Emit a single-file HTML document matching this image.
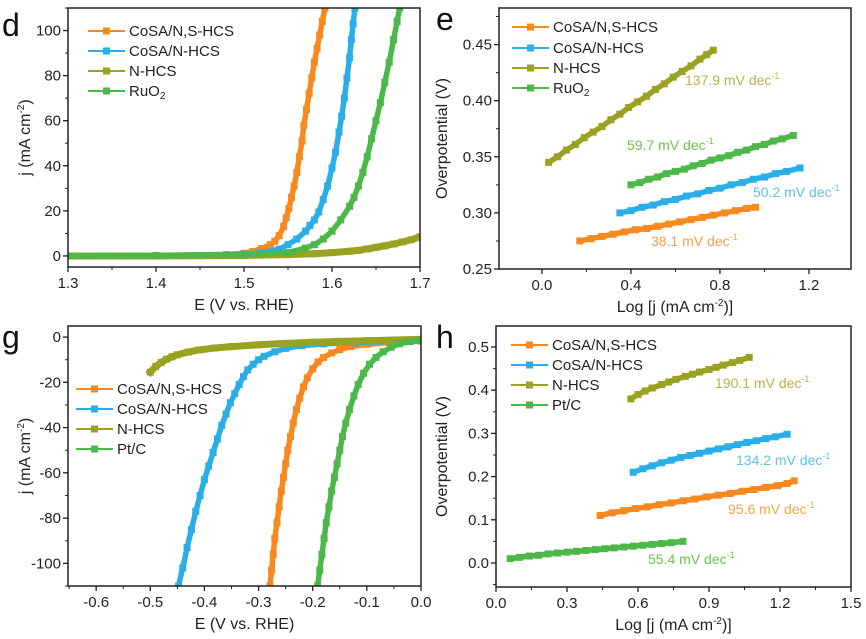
<!DOCTYPE html>
<html><head><meta charset="utf-8"><style>
body{margin:0;background:#fff;}
svg{display:block;font-family:"Liberation Sans",Arial,sans-serif;}
</style></head><body>
<svg id="fig" width="866" height="639" viewBox="0 0 866 639" xmlns="http://www.w3.org/2000/svg"></svg>
<script>
// ---- Data: panel d (OER LSV) ----
const dOrange=[[1.30,0],[1.40,0.2],[1.48,0.6],[1.50,1.2],[1.51,2],[1.52,3.3],[1.53,5],[1.535,6.5],[1.54,9],[1.545,13],[1.548,17],[1.551,21],[1.554,26],[1.557,31],[1.560,37],[1.563,44],[1.566,51],[1.568,58],[1.571,65],[1.574,72],[1.577,79],[1.580,86],[1.583,92],[1.586,98],[1.589,104],[1.592,110]];
const dBlue=[[1.30,0],[1.40,0.2],[1.50,0.8],[1.52,1.5],[1.54,3],[1.55,5],[1.56,7.5],[1.57,11],[1.575,13.5],[1.58,16],[1.585,19.5],[1.59,25],[1.595,31],[1.60,39],[1.604,46],[1.608,55],[1.611,62],[1.614,70],[1.617,79],[1.620,88],[1.622,96],[1.624,103],[1.626,110]];
const dOlive=[[1.30,0],[1.35,0],[1.40,0],[1.45,0.1],[1.50,0.2],[1.55,0.6],[1.58,1],[1.60,1.5],[1.62,2.1],[1.63,2.5],[1.64,3.1],[1.65,3.8],[1.66,4.5],[1.67,5.3],[1.68,6.2],[1.69,7.2],[1.70,8.5]];
const dGreen=[[1.30,0],[1.40,0.2],[1.50,0.6],[1.55,1.5],[1.57,3.5],[1.58,5],[1.59,7.5],[1.60,11],[1.61,16],[1.62,22],[1.625,26],[1.63,31],[1.635,37],[1.64,44],[1.645,52],[1.65,60],[1.655,68],[1.66,77],[1.665,86],[1.67,96],[1.674,104],[1.677,110]];
// ---- Data: panel e (OER Tafel) ----
const eOrangeX=[0.17,0.22,0.27,0.32,0.37,0.42,0.47,0.52,0.57,0.62,0.67,0.72,0.77,0.82,0.87,0.92,0.96];
const eOrangeY=[0.275,0.277,0.279,0.281,0.283,0.285,0.286,0.288,0.290,0.292,0.294,0.296,0.298,0.300,0.302,0.304,0.305];
const eBlueX=[0.35,0.40,0.45,0.50,0.55,0.60,0.65,0.70,0.75,0.80,0.85,0.90,0.95,1.00,1.05,1.10,1.16];
const eBlueY=[0.300,0.302,0.305,0.307,0.310,0.312,0.315,0.317,0.320,0.322,0.325,0.327,0.330,0.332,0.335,0.337,0.340];
const eOliveX=[0.03,0.07,0.11,0.15,0.19,0.23,0.27,0.31,0.35,0.39,0.43,0.47,0.51,0.55,0.59,0.63,0.67,0.71,0.74,0.77];
const eOliveY=[0.345,0.350,0.356,0.361,0.367,0.372,0.377,0.383,0.388,0.394,0.399,0.404,0.410,0.415,0.421,0.426,0.431,0.437,0.441,0.445];
const eGreenX=[0.40,0.44,0.48,0.52,0.56,0.60,0.64,0.68,0.72,0.76,0.80,0.84,0.88,0.92,0.96,1.00,1.04,1.08,1.13];
const eGreenY=[0.325,0.327,0.330,0.332,0.335,0.337,0.339,0.342,0.344,0.347,0.349,0.351,0.354,0.356,0.359,0.361,0.364,0.366,0.369];
// ---- Data: panel g (HER LSV) ----
const gOrange=[[-0.279,-110],[-0.276,-103],[-0.273,-96],[-0.27,-89],[-0.266,-82],[-0.262,-75],[-0.258,-68],[-0.254,-62],[-0.25,-56],[-0.246,-50],[-0.241,-44],[-0.236,-38],[-0.23,-32],[-0.224,-27],[-0.217,-22],[-0.21,-18],[-0.2,-14],[-0.19,-11],[-0.18,-9],[-0.165,-7],[-0.15,-5.5],[-0.13,-4.2],[-0.1,-3.2],[-0.06,-2.4],[0,-1.8]];
const gBlue=[[-0.448,-110],[-0.44,-102],[-0.432,-93],[-0.424,-85],[-0.416,-77],[-0.408,-70],[-0.40,-63],[-0.392,-57],[-0.384,-51],[-0.376,-45],[-0.368,-39],[-0.36,-34],[-0.352,-29],[-0.344,-25],[-0.336,-21],[-0.328,-17.5],[-0.32,-14.5],[-0.31,-12],[-0.30,-10],[-0.29,-8.5],[-0.27,-6.5],[-0.25,-5],[-0.22,-3.8],[-0.18,-3],[-0.12,-2.4],[-0.05,-1.8],[0,-1.5]];
const gOlive=[[-0.50,-15.5],[-0.49,-13],[-0.48,-11.2],[-0.47,-9.8],[-0.46,-8.7],[-0.45,-7.8],[-0.43,-6.6],[-0.41,-5.7],[-0.38,-4.8],[-0.35,-4.2],[-0.3,-3.4],[-0.25,-2.8],[-0.2,-2.3],[-0.15,-1.9],[-0.1,-1.6],[-0.05,-1.3],[0,-1.0]];
const gGreen=[[-0.191,-110],[-0.187,-103],[-0.183,-96],[-0.179,-89],[-0.175,-82],[-0.17,-75],[-0.165,-68],[-0.16,-62],[-0.155,-56],[-0.15,-50],[-0.145,-44],[-0.139,-38],[-0.132,-32],[-0.124,-26],[-0.116,-21],[-0.106,-16],[-0.095,-12],[-0.083,-9],[-0.07,-6.5],[-0.055,-4.5],[-0.04,-3],[-0.02,-2],[0,-1.3]];
// ---- Data: panel h (HER Tafel) ----
const hOrangeX=[0.44,0.49,0.54,0.59,0.64,0.69,0.74,0.79,0.84,0.89,0.94,0.99,1.04,1.09,1.14,1.19,1.23,1.26];
const hOrangeY=[0.11,0.116,0.121,0.126,0.13,0.135,0.139,0.144,0.148,0.153,0.157,0.161,0.166,0.17,0.175,0.179,0.184,0.19];
const hBlueX=[0.58,0.62,0.66,0.70,0.74,0.78,0.82,0.86,0.90,0.94,0.98,1.02,1.06,1.10,1.14,1.18,1.23];
const hBlueY=[0.21,0.218,0.225,0.232,0.238,0.244,0.249,0.254,0.259,0.264,0.269,0.274,0.279,0.283,0.288,0.292,0.298];
const hOliveX=[0.57,0.60,0.63,0.66,0.70,0.73,0.76,0.80,0.83,0.86,0.90,0.93,0.96,1.00,1.03,1.07];
const hOliveY=[0.38,0.39,0.398,0.405,0.413,0.419,0.425,0.432,0.437,0.442,0.448,0.453,0.458,0.464,0.469,0.476];
const hGreenX=[0.06,0.10,0.14,0.18,0.22,0.26,0.30,0.34,0.38,0.42,0.46,0.50,0.54,0.58,0.62,0.66,0.70,0.74,0.79];
const hGreenY=[0.01,0.013,0.016,0.018,0.021,0.023,0.025,0.027,0.029,0.031,0.033,0.035,0.037,0.039,0.041,0.043,0.045,0.047,0.05];
// tick labels
const dXTicks=[1.3,1.4,1.5,1.6,1.7], dYTicks=[0,20,40,60,80,100];
const eXTicks=[0.0,0.4,0.8,1.2], eYTicks=[0.25,0.30,0.35,0.40,0.45];
const gXTicks=[-0.6,-0.5,-0.4,-0.3,-0.2,-0.1,0.0], gYTicks=[0,-20,-40,-60,-80,-100];
const hXTicks=[0.0,0.3,0.6,0.9,1.2,1.5], hYTicks=[0.0,0.1,0.2,0.3,0.4,0.5];

const C={o:"#f7891e",b:"#2aaee8",v:"#9aa222",g:"#4cb848"};
const TC={o:"#f0a448",b:"#5ec1ec",v:"#b5b44a",g:"#6cc34e"};
const svg=document.getElementById('fig');
const NS="http://www.w3.org/2000/svg";
function el(tag,attrs,parent){const e=document.createElementNS(NS,tag);for(const k in attrs)e.setAttribute(k,attrs[k]);(parent||svg).appendChild(e);return e;}

function panel(p){
  const g=el('g',{});
  
  
  const sx=v=>p.L+(v-p.x0)/(p.x1-p.x0)*(p.R-p.L);
  const sy=v=>p.B-(v-p.y0)/(p.y1-p.y0)*(p.B-p.T);
  const clip=el('clipPath',{id:'clip-'+p.letter},g);
  el('rect',{x:p.L,y:p.T,width:p.R-p.L,height:p.B-p.T},clip);
  p.series.forEach(s=>{
    const sg=el('g',{'clip-path':'url(#clip-'+p.letter+')'},g);
    
    
    const pts=s.pts.map(q=>[sx(q[0]),sy(q[1])]);
    el('polyline',{points:pts.map(q=>q.join(',')).join(' '),fill:'none',stroke:s.c,'stroke-width':s.lw||5.5,'stroke-linejoin':'round','stroke-linecap':'square'},sg);
    pts.forEach(q=>{const m=el('rect',{x:q[0]-3.5,y:q[1]-3.5,width:7,height:7,fill:s.c},sg);
      
      });
  });
  const f=el('rect',{x:p.L,y:p.T,width:p.R-p.L,height:p.B-p.T,fill:'none',stroke:'#222','stroke-width':1.5},g);
  
  
  const xa=el('g',{},g);
  
  
  p.xt.forEach(v=>{const x=sx(v);el('line',{x1:x,x2:x,y1:p.B,y2:p.B+5,stroke:'#222','stroke-width':1.3},xa);
    const t=el('text',{x:x,y:p.B+21,'font-size':15,'text-anchor':'middle',fill:'#222'},xa);t.textContent=v.toFixed(1);});
  for(let v=p.xm0;v<=p.x1+1e-9;v+=p.xm){const x=sx(v);if(x>=p.L-0.5&&x<=p.R+0.5)el('line',{x1:x,x2:x,y1:p.B,y2:p.B+3,stroke:'#222','stroke-width':1},xa);}
  const ya=el('g',{},g);
  
  
  p.yt.forEach(v=>{const y=sy(v);el('line',{x1:p.L-5,x2:p.L,y1:y,y2:y,stroke:'#222','stroke-width':1.3},ya);
    const t=el('text',{x:p.L-7,y:y+5,'font-size':15,'text-anchor':'end',fill:'#222'},ya);t.textContent=v.toFixed(p.yd);});
  for(let v=p.ym0;v<=p.y1+1e-9;v+=p.ym){const y=sy(v);if(y>=p.T-0.5&&y<=p.B+0.5)el('line',{x1:p.L-3,x2:p.L,y1:y,y2:y,stroke:'#222','stroke-width':1},ya);}
  const xt=el('text',{x:(p.L+p.R)/2,y:p.B+43,'font-size':16,'text-anchor':'middle',fill:'#222'},g);
  
  
  xt.innerHTML=p.xtitle;
  const yt=el('text',{x:0,y:0,'font-size':16,'text-anchor':'middle',fill:'#222',transform:`translate(${p.ytx},${(p.T+p.B)/2}) rotate(-90)`},g);
  
  
  yt.innerHTML=p.ytitle;
  const lt=el('text',{x:p.lx,y:p.ly,'font-size':32,fill:'#111'},g);
  
  
  lt.textContent=p.letter;
  const lg=el('g',{},g);
  
  
  p.series.forEach((s,i)=>{const y=p.legY[i];
    const e=el('g',{},lg);
    
    
    el('line',{x1:p.legX,x2:p.legX+37,y1:y,y2:y,stroke:s.c,'stroke-width':2},e);
    el('rect',{x:p.legX+15,y:y-3.5,width:7,height:7,fill:s.c},e);
    const t=el('text',{x:p.legX+41,y:y+5,'font-size':15,fill:'#222'},e);t.innerHTML=s.label;});
  (p.ann||[]).forEach(a=>{const t=el('text',{x:a[0],y:a[1],'font-size':14,fill:a[2]},g);
    
    
    t.innerHTML=a[3]+' mV dec<tspan dy="-6" font-size="9">-1</tspan>';});
}
const zip=(X,Y)=>X.map((x,i)=>[x,Y[i]]);
const ytJ='j (mA cm<tspan dy="-6" font-size="10">-2</tspan><tspan dy="6">)</tspan>';
const xtLog='Log [j (mA cm<tspan dy="-6" font-size="10">-2</tspan><tspan dy="6">)]</tspan>';
const RuO2='RuO<tspan font-size="10" dy="3">2</tspan>';

panel({name:'panel-d-oer-lsv',L:68,R:420,T:8,B:267,x0:1.3,x1:1.7,y0:-4.9,y1:110,xt:dXTicks,yt:dYTicks,yd:0,xm0:1.3,xm:0.05,ym0:-10,ym:10,
 xtitle:'E (V vs. RHE)',ytitle:ytJ,ytx:30,letter:'d',lx:2,ly:36,legX:88,legY:[31,51,71,91],
 series:[{id:'series-cosa-ns-hcs',label:'CoSA/N,S-HCS',c:C.o,pts:dOrange},{id:'series-cosa-n-hcs',label:'CoSA/N-HCS',c:C.b,pts:dBlue},{id:'series-n-hcs',label:'N-HCS',c:C.v,pts:dOlive,lw:7},{id:'series-ruo2',label:RuO2,c:C.g,pts:dGreen}]});
panel({name:'panel-e-oer-tafel',L:499,R:851,T:8,B:269,x0:-0.193,x1:1.389,y0:0.25,y1:0.4826,xt:eXTicks,yt:eYTicks,yd:2,xm0:-0.2,xm:0.2,ym0:0.25,ym:0.025,
 xtitle:xtLog,ytitle:'Overpotential (V)',ytx:447,letter:'e',lx:436,ly:30,legX:512,legY:[27,48,68,88],
 series:[{id:'series-cosa-ns-hcs',label:'CoSA/N,S-HCS',c:C.o,pts:zip(eOrangeX,eOrangeY)},{id:'series-cosa-n-hcs',label:'CoSA/N-HCS',c:C.b,pts:zip(eBlueX,eBlueY)},{id:'series-n-hcs',label:'N-HCS',c:C.v,pts:zip(eOliveX,eOliveY)},{id:'series-ruo2',label:RuO2,c:C.g,pts:zip(eGreenX,eGreenY)}],
 ann:[[685,85,TC.v,'137.9'],[627,150,TC.g,'59.7'],[753,197,TC.b,'50.2'],[651,246,TC.o,'38.1']]});
panel({name:'panel-g-her-lsv',L:68,R:421,T:326,B:586,x0:-0.652,x1:0,y0:-110,y1:4.9,xt:gXTicks,yt:gYTicks,yd:0,xm0:-0.65,xm:0.05,ym0:-110,ym:10,
 xtitle:'E (V vs. RHE)',ytitle:ytJ,ytx:30,letter:'g',lx:2,ly:348,legX:76,legY:[389,409,429,449],
 series:[{id:'series-cosa-ns-hcs',label:'CoSA/N,S-HCS',c:C.o,pts:gOrange},{id:'series-cosa-n-hcs',label:'CoSA/N-HCS',c:C.b,pts:gBlue},{id:'series-n-hcs',label:'N-HCS',c:C.v,pts:gOlive,lw:7},{id:'series-pt-c',label:'Pt/C',c:C.g,pts:gGreen}]});
panel({name:'panel-h-her-tafel',L:496,R:851,T:326,B:587,x0:0,x1:1.5,y0:-0.0556,y1:0.5486,xt:hXTicks,yt:hYTicks,yd:1,xm0:0,xm:0.15,ym0:-0.05,ym:0.05,
 xtitle:xtLog,ytitle:'Overpotential (V)',ytx:447,letter:'h',lx:436,ly:348,legX:511,legY:[345,365,385,405],
 series:[{id:'series-cosa-ns-hcs',label:'CoSA/N,S-HCS',c:C.o,pts:zip(hOrangeX,hOrangeY)},{id:'series-cosa-n-hcs',label:'CoSA/N-HCS',c:C.b,pts:zip(hBlueX,hBlueY)},{id:'series-n-hcs',label:'N-HCS',c:C.v,pts:zip(hOliveX,hOliveY)},{id:'series-pt-c',label:'Pt/C',c:C.g,pts:zip(hGreenX,hGreenY)}],
 ann:[[715,388,TC.v,'190.1'],[736,465,TC.b,'134.2'],[728,514,TC.o,'95.6'],[648,564,TC.g,'55.4']]});
</script>
</body></html>
